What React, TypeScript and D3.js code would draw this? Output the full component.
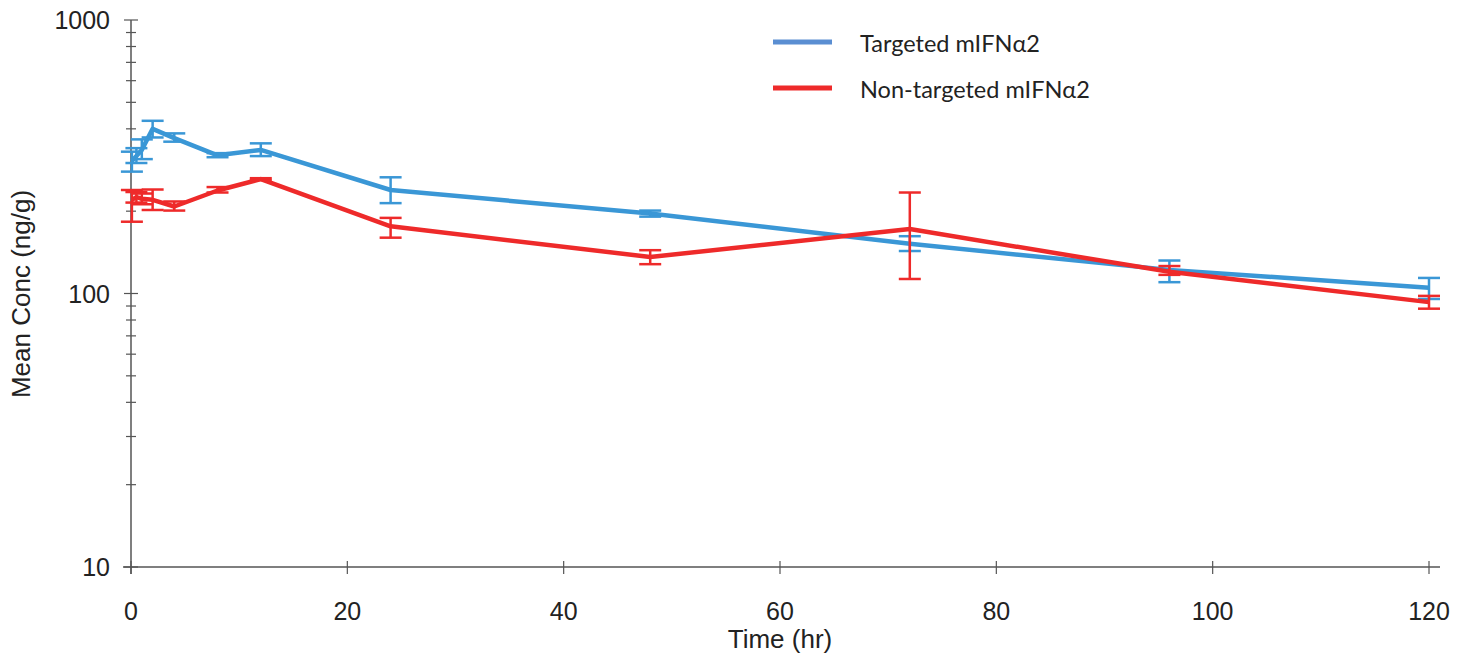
import React from "react";
import * as d3 from "d3";

const times = [0.083, 0.5, 1, 2, 4, 8, 12, 24, 48, 72, 96, 120];
const targetedMean = [305, 318, 335, 400, 370, 320, 335, 239, 196, 152, 122, 105];
const targetedLow = [279, 300, 310, 372, 359, 315, 318, 214, 191, 143, 110, 95.5];
const targetedHigh = [330, 340, 366, 428, 385, 326, 354, 266, 201, 162, 132, 114];
const nonTargetedMean = [220, 225, 222, 220, 208, 238, 262, 176, 136, 172, 120, 93];
const nonTargetedLow = [183, 215, 212, 202, 201, 234, 260, 160, 128, 113, 117, 88];
const nonTargetedHigh = [239, 235, 232, 240, 217, 245, 264, 189, 144, 234, 126, 98];
const xTicks = [0, 20, 40, 60, 80, 100, 120];
const yMajor = [10, 100, 1000];
const seriesNames = ["Targeted mIFNα2", "Non-targeted mIFNα2"];

const W = 1468, H = 655;
const BLUE = "#3a97d6";
const BLUE_LEG = "#5a8ed2";
const RED = "#ee2a2a";

export default function App() {
  const x = d3.scaleLinear().domain([0, 120]).range([131, 1429]);
  const y = d3.scaleLog().domain([10, 1000]).range([567, 20]);
  const minor: number[] = [];
  [10, 100].forEach((d) => { for (let k = 2; k <= 9; k++) minor.push(d * k); });
  const line = d3.line<number>().x((_, i) => x(times[i])).y((v) => y(v));
  const series = [
    { mean: targetedMean, lo: targetedLow, hi: targetedHigh, color: BLUE },
    { mean: nonTargetedMean, lo: nonTargetedLow, hi: nonTargetedHigh, color: RED },
  ];
  const font = "'Liberation Sans', Arial, sans-serif";
  return (
    <svg width={W} height={H} style={{ position: "absolute", left: 0, top: 0 }}>
      <rect width={W} height={H} fill="#fff" />
      {/* axes */}
      <line x1={123} x2={1440} y1={567} y2={567} stroke="#555" strokeWidth={1.5} />
      <line x1={131} x2={131} y1={20} y2={574} stroke="#555" strokeWidth={1.5} />
      {xTicks.map((t) => (
        <g key={"xt" + t}>
          <line x1={x(t)} x2={x(t)} y1={561} y2={574} stroke="#555" strokeWidth={1.2} />
          <text x={x(t)} y={620} textAnchor="middle" fontSize={25} fontFamily={font} fill="#222">{t}</text>
        </g>
      ))}
      {yMajor.map((v) => (
        <g key={"ym" + v}>
          <line x1={124} x2={138} y1={y(v)} y2={y(v)} stroke="#555" strokeWidth={1.2} />
          <text x={110} y={y(v) + 9} textAnchor="end" fontSize={25} fontFamily={font} fill="#222">{v}</text>
        </g>
      ))}
      {minor.map((v) => (
        <line key={"mn" + v} x1={126} x2={136} y1={y(v)} y2={y(v)} stroke="#555" strokeWidth={1.2} />
      ))}
      <text x={780} y={648} textAnchor="middle" fontSize={26} fontFamily={font} fill="#222">Time (hr)</text>
      <text transform={`translate(30,294) rotate(-90)`} textAnchor="middle" fontSize={26} fontFamily={font} fill="#222">Mean Conc (ng/g)</text>
      {/* series */}
      {series.map((s, si) => (
        <g key={"s" + si}>
          <path d={line(s.mean) || ""} fill="none" stroke={s.color} strokeWidth={4.5} strokeLinejoin="round" />
          {times.map((t, i) => (
            <g key={i} stroke={s.color} strokeWidth={2.5}>
              <line x1={x(t)} x2={x(t)} y1={y(s.lo[i])} y2={y(s.hi[i])} />
              <line x1={x(t) - 11} x2={x(t) + 11} y1={y(s.lo[i])} y2={y(s.lo[i])} />
              <line x1={x(t) - 11} x2={x(t) + 11} y1={y(s.hi[i])} y2={y(s.hi[i])} />
            </g>
          ))}
        </g>
      ))}
      {/* legend */}
      {seriesNames.map((n, i) => (
        <g key={"lg" + i}>
          <line x1={773} x2={832} y1={42 + i * 46} y2={42 + i * 46} stroke={i === 0 ? BLUE_LEG : RED} strokeWidth={5} />
          <text x={860} y={52 + i * 46} fontSize={23.5} fontFamily="Lato, 'Open Sans', sans-serif" fill="#222">{n}</text>
        </g>
      ))}
    </svg>
  );
}
